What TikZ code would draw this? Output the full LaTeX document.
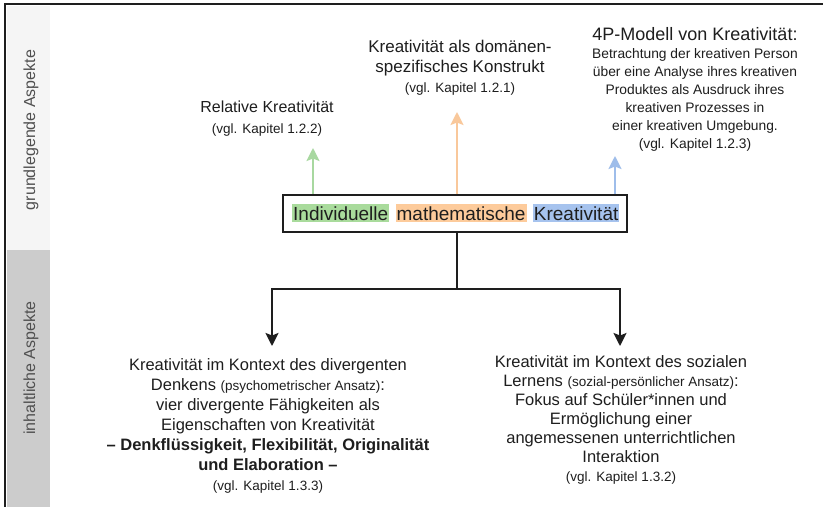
\documentclass[tikz,border=0pt]{standalone}
\usepackage{fontspec}
\setmainfont{Liberation Sans}
\usetikzlibrary{arrows.meta}

\definecolor{hlgreen}{HTML}{A9DB9C}
\definecolor{hlorange}{HTML}{FDCB9B}
\definecolor{hlblue}{HTML}{A6C3EE}
\definecolor{argreen}{HTML}{A8D8A0}
\definecolor{arorange}{HTML}{F9C89B}
\definecolor{arblue}{HTML}{9EBDEA}
\definecolor{bandtop}{HTML}{F5F5F5}
\definecolor{bandbot}{HTML}{CCCCCC}
\definecolor{ink}{HTML}{1E1E1E}
\definecolor{sidetext}{HTML}{505050}

\newcommand{\sz}[2]{\fontsize{#1}{#2}\selectfont}
\newcommand{\vgl}[1]{{\sz{13.5}{19}#1}}

\tikzset{
  frame/.style={draw=ink, line width=1.6pt},
  sidelabel/.style={rotate=90, text=sidetext, font=\sz{16}{18}},
  hl/.style={inner xsep=1pt, inner ysep=2pt, text=ink, font=\sz{19}{22}, anchor=base west},
  mainbox/.style={draw=ink, line width=2pt, minimum width=344pt, minimum height=37pt, inner sep=0pt},
  uparrow/.style={line width=2pt, -{Stealth[length=13pt, width=13pt, inset=2.5pt]}},
  link/.style={draw=ink, line width=2pt},
  downarrow/.style={link, -{Stealth[length=13pt, width=13pt, inset=2.5pt]}},
  label/.style={align=center, text=ink, inner sep=0pt},
}

\begin{document}
\begin{tikzpicture}[x=1pt, y=-1pt]
  \useasboundingbox (0,0) rectangle (823,507);
  \fill[white] (0,0) rectangle (823,507);

  % side bands
  \fill[bandtop] (7,6) rectangle (50,250);
  \fill[bandbot] (7,250) rectangle (50,507);
  \draw[frame] (823,4) -- (5,4) -- (5,507);
  \node[sidelabel] (grund) at (31,130) {grundlegende Aspekte};
  \node[sidelabel] (inhalt) at (31,368) {inhaltliche Aspekte};

  % upper labels
  \node[label, font=\sz{16}{21}] (relativ) at (267,118.5)
    {Relative Kreativität\\\vgl{(vgl. Kapitel 1.2.2)}};
  \node[label, font=\sz{17}{20}] (domaene) at (460,68)
    {Kreativität als domänen-\\spezifisches Konstrukt\\\vgl{(vgl. Kapitel 1.2.1)}};
  \node[label, font=\sz{13.8}{18}] (vierp) at (695,89.5)
    {{\sz{18}{21}4P-Modell von Kreativität:}\\
     Betrachtung der kreativen Person\\
     über eine Analyse ihres kreativen\\
     Produktes als Ausdruck ihres\\
     kreativen Prozesses in\\
     einer kreativen Umgebung.\\
     (vgl. Kapitel 1.2.3)};

  % central box
  \node[mainbox] (box) at (455,213.5) {};
  \node[hl, fill=hlgreen] (ind) at (292,220) {Individuelle};
  \node[hl, fill=hlorange] (mat) at ([xshift=6pt]ind.base east) {mathematische};
  \node[hl, fill=hlblue] (kre) at ([xshift=6pt]mat.base east) {Kreativität};

  % coloured arrows up
  \coordinate (gtip) at (313,148);
  \coordinate (otip) at (457,112);
  \coordinate (btip) at (615,156);
  \draw[uparrow, argreen] (box.north -| gtip) -- (gtip);
  \draw[uparrow, arorange] (box.north -| otip) -- (otip);
  \draw[uparrow, arblue] (box.north -| btip) -- (btip);

  % branching connector down
  \coordinate (split) at (457,289);
  \coordinate (ltip) at (272,346);
  \coordinate (rtip) at (620,346);
  \draw[link] (box.south -| split) -- (split);
  \draw[downarrow] (split) -| (ltip);
  \draw[downarrow] (split) -| (rtip);

  % lower labels
  \node[label, font=\sz{16.5}{20}] (divergent) at (268,425.5)
    {Kreativität im Kontext des divergenten\\
     Denkens \vgl{(psychometrischer Ansatz)}:\\
     vier divergente Fähigkeiten als\\
     Eigenschaften von Kreativität\\
     \textbf{– Denkflüssigkeit, Flexibilität, Originalität}\\
     \textbf{und Elaboration –}\\
     \vgl{(vgl. Kapitel 1.3.3)}};
  \node[label, font=\sz{16.5}{19}] (sozial) at (621,419.5)
    {Kreativität im Kontext des sozialen\\
     Lernens \vgl{(sozial-persönlicher Ansatz)}:\\
     Fokus auf Schüler*innen und\\
     Ermöglichung einer\\
     angemessenen unterrichtlichen\\
     Interaktion\\
     \vgl{(vgl. Kapitel 1.3.2)}};
\end{tikzpicture}
\end{document}
